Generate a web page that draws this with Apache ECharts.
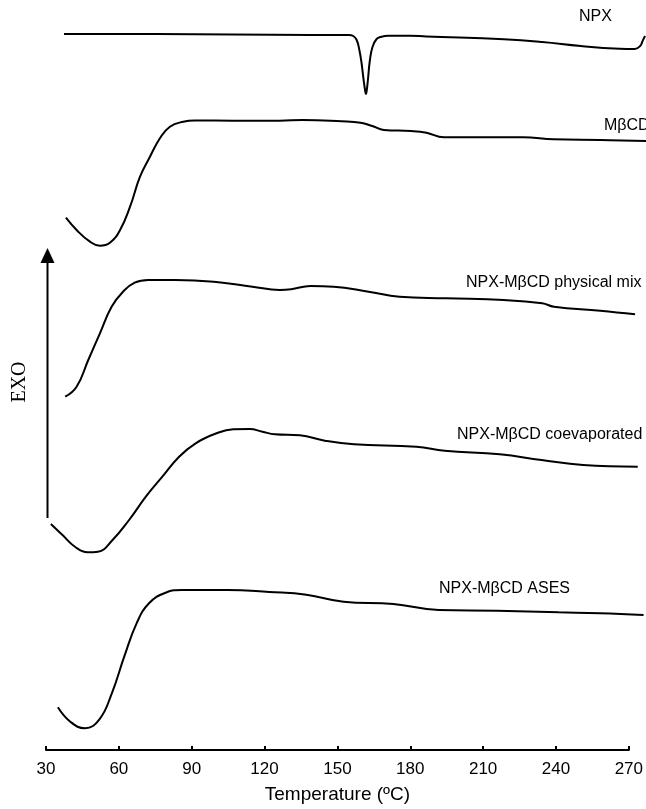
<!DOCTYPE html>
<html>
<head>
<meta charset="utf-8">
<script src="https://cdn.jsdelivr.net/npm/echarts@6/dist/echarts.min.js"></script>
<style>
html,body{margin:0;padding:0;background:#fff;}
#chart{width:646px;height:809px;}
</style>
</head>
<body>
<div id="chart"></div>
<script>
// Temperature ticks
var xTicks = [30, 60, 90, 120, 150, 180, 210, 240, 270];
var dataMaxT = 277; // traces run slightly past the last tick
var curveNames = ['NPX', 'M\u03b2CD', 'NPX-M\u03b2CD physical mix', 'NPX-M\u03b2CD coevaporated', 'NPX-M\u03b2CD ASES'];

// DSC traces: [temperature (ºC), heat flow (arbitrary units, stacked offsets)]
var npx = [[37.4,721],[75.3,721],[138.9,720],[154.7,720],[156.5,719],[157.9,715],[159,705],[159.9,692],[160.6,678],[161.4,664],[161.7,661],[162,664],[162.6,677],[163.3,694],[164.4,708],[166.1,716],[168.1,718.3],[170.9,719.3],[179.8,719.3],[186.6,718.5],[218.5,715.7],[234.3,713],[250.2,709],[266.2,706.3],[272.4,706],[274.6,709],[275.6,714],[276.6,719]];
var mbcd = [[38.2,537.3],[42.6,525],[48.1,513.3],[52.2,509.3],[56.3,512.3],[60.5,525],[64.6,548.3],[68.7,578.3],[72.8,598.3],[76.9,616.7],[81,628.3],[86.5,633.3],[91.2,634.5],[107.1,634.3],[126.2,634.3],[135.7,635],[151.6,633.7],[159.5,632.3],[164.3,629],[169.1,625],[180.2,624],[186.6,622.3],[193.8,617.7],[226.3,617.7],[239,615.7],[258.2,615],[277,614]];
var physMix = [[37.9,358.3],[42.6,368.3],[47.4,395],[52.2,421.7],[57,448.3],[61.7,463.3],[66.5,472.3],[72.1,475],[83.2,475],[99.1,473.3],[115,468.3],[126.2,465],[130.9,465.7],[138.9,469],[148.4,468.3],[162.8,463.3],[175.5,458.3],[194.6,456.7],[218.4,455],[234.3,451.7],[239.1,448.3],[258.2,444.3],[272.5,440.7]];
var coevap = [[32,231],[36.8,220],[41.9,208.3],[47.1,202.7],[51.4,203.3],[57.4,215],[64.2,235],[71.1,258.3],[77.9,278.3],[84.8,298.3],[91.6,311.7],[100.2,321.7],[107.1,325.7],[113.9,326],[119.1,323.3],[124.2,320.7],[134.5,319.7],[144.8,314.3],[156.8,310.7],[182.5,308.3],[194.1,304.3],[216.8,300.7],[234,295],[251.1,290],[273.6,288.3]];
var ases = [[34.9,47.7],[40,33.3],[46,26.7],[52,35.7],[57.1,61.7],[62.2,98.3],[67.3,131.7],[72.4,151.7],[79.2,162.3],[86,165],[104.8,165],[121.9,163],[137.2,160.3],[152.5,153.3],[173,151],[191.7,145],[215.6,144.3],[241.1,142.7],[258.1,141.7],[276,140]];

var FONT = '"Liberation Sans", Arial, sans-serif';
var chart = echarts.init(document.getElementById('chart'), null, {renderer: 'canvas'});

function mkSeries(name, data) {
  return {
    name: name, type: 'line', data: data, showSymbol: false, clip: false,
    xAxisIndex: 0, yAxisIndex: 0,
    smooth: 0.45,
    lineStyle: {color: '#000', width: 2}, itemStyle: {color: '#000'},
    animation: false
  };
}

function label(text, x, y) {
  return {type: 'text', x: x, y: y, style: {text: text, fill: '#000', font: '16px ' + FONT, textAlign: 'left', textVerticalAlign: 'middle', verticalAlign: 'middle'}};
}

// grid 0 holds the traces (same scale, extends to the right edge); grid 1 draws the visible temperature axis
var pxPerUnit = 583 / (xTicks[xTicks.length - 1] - xTicks[0]);
var dataRight = 646 - 46 - pxPerUnit * (dataMaxT - xTicks[0]);

var option = {
  backgroundColor: '#fff',
  animation: false,
  grid: [
    {left: 46, right: dataRight, top: 0, bottom: 54},
    {left: 46, right: 17, top: 0, bottom: 54}
  ],
  xAxis: [
    {gridIndex: 0, type: 'value', min: xTicks[0], max: dataMaxT, show: false},
    {
      gridIndex: 1, type: 'value', min: xTicks[0], max: xTicks[xTicks.length - 1], interval: 30,
      name: 'Temperature (\u00baC)', nameLocation: 'middle', nameGap: 35,
      nameTextStyle: {color: '#000', fontSize: 19, fontFamily: FONT},
      axisLine: {lineStyle: {color: '#000', width: 2}},
      axisTick: {inside: true, length: 4, lineStyle: {color: '#000', width: 2}},
      axisLabel: {color: '#000', fontSize: 17, fontFamily: FONT, margin: 11},
      splitLine: {show: false}
    }
  ],
  yAxis: [
    {gridIndex: 0, type: 'value', min: 0, max: 755, show: false},
    {gridIndex: 1, type: 'value', min: 0, max: 755, show: false}
  ],
  series: [
    mkSeries(curveNames[0], npx),
    mkSeries(curveNames[1], mbcd),
    mkSeries(curveNames[2], physMix),
    mkSeries(curveNames[3], coevap),
    mkSeries(curveNames[4], ases)
  ],
  graphic: [
    label(curveNames[0], 579, 17),
    label(curveNames[1], 604, 126),
    label(curveNames[2], 466, 283),
    label(curveNames[3], 457, 435),
    label(curveNames[4], 439, 589),
    {type: 'line', shape: {x1: 47.5, y1: 518, x2: 47.5, y2: 260}, style: {stroke: '#000', lineWidth: 2}},
    {type: 'polygon', shape: {points: [[40.5, 263], [54.5, 263], [47.5, 248]]}, style: {fill: '#000'}},
    {type: 'text', x: 20, y: 382, rotation: Math.PI / 2,
     style: {text: 'EXO', fill: '#000', font: '20px "Liberation Serif", "Times New Roman", serif', textAlign: 'center', textVerticalAlign: 'middle', verticalAlign: 'middle', align: 'center'}}
  ]
};
chart.setOption(option);
</script>
</body>
</html>
